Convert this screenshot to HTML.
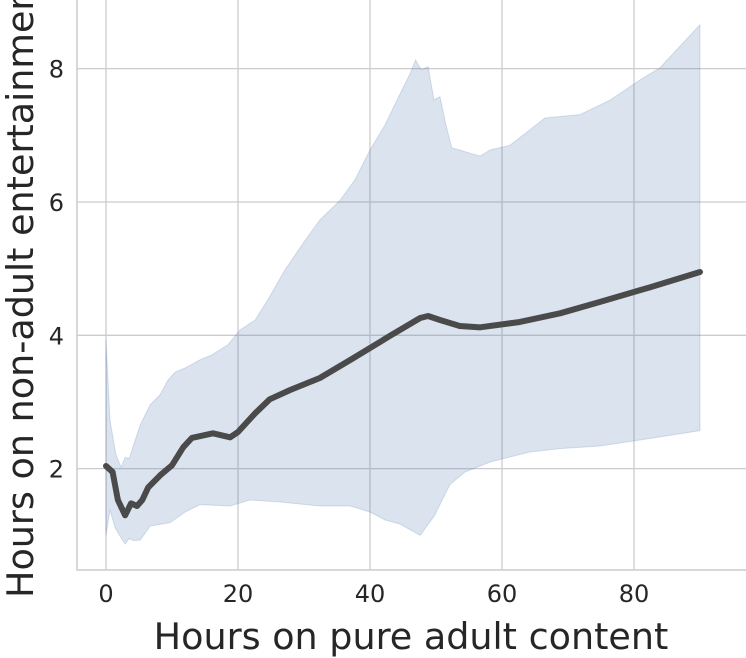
<!DOCTYPE html>
<html><head><meta charset="utf-8"><style>
body{margin:0;background:#fff;}
svg{display:block;font-family:"DejaVu Sans","Liberation Sans",sans-serif;}
</style></head><body>
<svg id="chart" width="746" height="658"></svg>
<script>
const xTicks=[0,20,40,60,80];
const yTicks=[2,4,6,8];
const meanX=[0,1,1.8,2.9,3.8,4.7,5.5,6.4,8.2,10,11.7,13,16.2,18.8,20,22.6,24.8,27.9,32.4,37,43,47.6,48.8,50.6,53.6,56.7,62.7,68.8,74.8,82.4,90];
const meanY=[2.04,1.95,1.53,1.30,1.48,1.44,1.53,1.72,1.90,2.05,2.32,2.46,2.53,2.47,2.55,2.83,3.04,3.18,3.36,3.63,3.99,4.26,4.29,4.23,4.14,4.12,4.20,4.33,4.50,4.72,4.95];
const upperX=[0,0.6,1.5,2.3,2.9,3.5,4.2,5.2,6.7,8.2,9.4,10.5,12,14.2,16.1,18.5,20.3,22.6,24.5,27.1,30.2,32.4,35.5,37.7,40,42.3,44.5,46,46.9,47.8,48.8,49.7,50.6,51.5,52.4,53.6,55.2,56.7,58.2,61.2,64.2,66.5,71.8,76.4,80.9,83.9,90];
const upperY=[3.93,2.73,2.21,2.02,2.17,2.15,2.36,2.66,2.96,3.11,3.33,3.45,3.51,3.63,3.71,3.86,4.08,4.23,4.53,4.98,5.43,5.73,6.03,6.33,6.78,7.16,7.61,7.91,8.13,7.98,8.03,7.53,7.58,7.16,6.81,6.78,6.73,6.69,6.78,6.85,7.08,7.26,7.31,7.53,7.83,8.01,8.66];
const lowerX=[0,0.6,1.4,2.3,2.9,3.5,4.2,5.2,6.7,9.7,12,14.2,18.8,21.8,26.4,32.4,37,40,42.3,44.5,47.6,49.8,52.1,54.4,58.2,64.2,68.8,74.8,80.9,90];
const lowerY=[1.00,1.38,1.11,0.96,0.87,0.95,0.92,0.93,1.14,1.19,1.35,1.46,1.44,1.53,1.50,1.44,1.44,1.35,1.23,1.17,1.00,1.30,1.76,1.95,2.10,2.25,2.30,2.34,2.43,2.57];

const NS="http://www.w3.org/2000/svg";
const svg=document.getElementById('chart');
const L=77,R=746,T=0,B=570;
const sx=v=>106+v*6.6;
const sy=v=>602-v*66.67;
function mk(t,a){const e=document.createElementNS(NS,t);for(const k in a)e.setAttribute(k,a[k]);svg.appendChild(e);return e;}

xTicks.forEach(v=>{
  const g=mk('line',{x1:sx(v),x2:sx(v),y1:T,y2:B,stroke:'#cccccc','stroke-width':1.3});
  
  
  const t=mk('text',{x:sx(v),y:602,'font-size':24,fill:'#262626','text-anchor':'middle'});
  t.textContent=v;
  
  
});
yTicks.forEach(v=>{
  const g=mk('line',{x1:L,x2:R,y1:sy(v),y2:sy(v),stroke:'#cccccc','stroke-width':1.3});
  
  
  const t=mk('text',{x:64,y:sy(v)+9,'font-size':24,fill:'#262626','text-anchor':'end'});
  t.textContent=v;
  
  
});
const ax=mk('path',{d:`M${L},${T}V${B}H${R}`,fill:'none',stroke:'#cccccc','stroke-width':1.5});



let d='M'+upperX.map((x,i)=>sx(x)+','+sy(upperY[i])).join('L');
for(let i=lowerX.length-1;i>=0;i--)d+='L'+sx(lowerX[i])+','+sy(lowerY[i]);
const band=mk('path',{d:d+'Z',fill:'#4c72b0','fill-opacity':0.2,stroke:'#4c72b0','stroke-opacity':0.2,'stroke-width':1});



const line=mk('polyline',{points:meanX.map((x,i)=>sx(x)+','+sy(meanY[i])).join(' '),fill:'none',stroke:'#4a4a4a','stroke-width':6,'stroke-linejoin':'round','stroke-linecap':'round'});



const xl=mk('text',{x:411,y:649,'font-size':36.5,fill:'#262626','text-anchor':'middle'});
xl.textContent='Hours on pure adult content';


const yl=mk('text',{x:0,y:0,'font-size':36.5,fill:'#262626','text-anchor':'start',transform:'translate(33,598) rotate(-90)'});
yl.textContent='Hours on non-adult entertainment';


</script>
</body></html>
